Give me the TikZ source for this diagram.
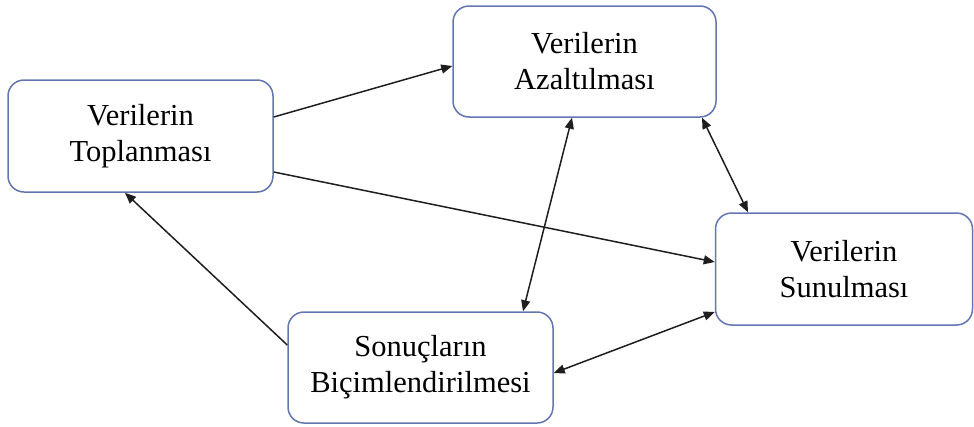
\documentclass[tikz,border=0pt]{standalone}
\usepackage{fontspec}
\setmainfont{Liberation Serif}
\usetikzlibrary{arrows.meta}
\definecolor{boxline}{RGB}{100,118,178}
\definecolor{arrowline}{RGB}{30,30,30}
\begin{document}
\begin{tikzpicture}[x=1pt,y=-1pt,
  stage/.style={draw=boxline, line width=1.5pt, rounded corners=16pt, fill=white,
    align=center, inner sep=0pt, font=\fontsize{30.5}{36}\selectfont},
  flow/.style={draw=arrowline, line width=1.5pt, -{Triangle[length=11pt,width=9pt]}},
  twoway/.style={draw=arrowline, line width=1.5pt, {Triangle[length=11pt,width=9pt]}-{Triangle[length=11pt,width=9pt]}}]
  \useasboundingbox (0,0) rectangle (974,426);

  \node[stage, minimum width=265pt, minimum height=112pt] (A) at (140.5,136) {Verilerin\\Toplanması};
  \node[stage, minimum width=263pt, minimum height=111pt] (B) at (584.5,61.5) {Verilerin\\Azaltılması};
  \node[stage, minimum width=257pt, minimum height=112pt] (C) at (844,269) {Verilerin\\Sunulması};
  \node[stage, minimum width=265pt, minimum height=111pt] (D) at (420.5,367.5) {Sonuçların\\Biçimlendirilmesi};

  \draw[flow] ([yshift=19pt]A.east) -- ([yshift=-4.5pt]B.west);
  \draw[flow] ([yshift=-36pt]A.east) -- ([yshift=7pt]C.west);
  \draw[flow] ([yshift=22.5pt]D.west) -- ([xshift=-15.5pt]A.south);
  \draw[twoway] ([xshift=-12.5pt]B.south) -- ([xshift=102.5pt]D.north);
  \draw[twoway] ([xshift=117.5pt]B.south) -- ([xshift=-96pt]C.north);
  \draw[twoway] ([yshift=-5.5pt]D.east) -- ([yshift=-43pt]C.west);
\end{tikzpicture}
\end{document}
